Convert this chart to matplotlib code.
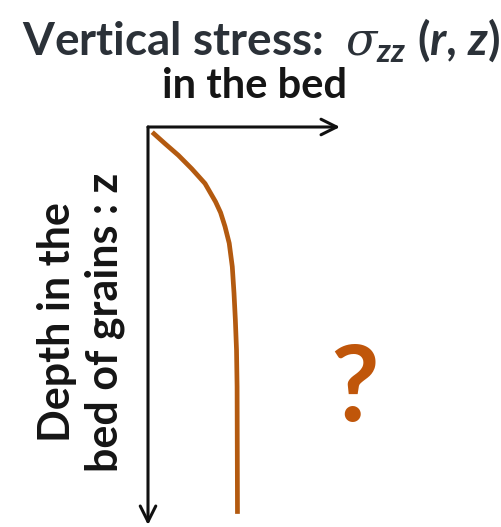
import matplotlib
matplotlib.use("Agg")
import matplotlib.pyplot as plt

# stress profile (both axes scaled 0..1 of the arrow length)
depth = [0.013, 0.042, 0.071, 0.105, 0.142, 0.188, 0.215, 0.250, 0.292,
         0.351, 0.418, 0.485, 0.560, 0.653, 0.972]
stress = [0.022, 0.089, 0.158, 0.228, 0.297, 0.352, 0.378, 0.401, 0.423,
          0.439, 0.448, 0.455, 0.461, 0.464, 0.466]

title_1 = r"Vertical stress:  $\sigma_{\mathbfit{zz}}$ ($\mathbfit{r}$, $\mathbfit{z}$)"
title_2 = "in the bed"
ylabel = "Depth in the\nbed of grains : z"

plt.rcParams['font.family'] = ['Lato', 'DejaVu Sans']
plt.rcParams['mathtext.fontset'] = 'custom'
plt.rcParams['mathtext.rm'] = 'Lato:bold'
plt.rcParams['mathtext.it'] = 'DejaVu Serif:italic'
plt.rcParams['mathtext.bf'] = 'Lato:bold'
plt.rcParams['mathtext.bfit'] = 'Lato:italic:bold'

W, H = 502, 527
fig = plt.figure(figsize=(W / 100, H / 100), dpi=100)

# axes spans the two arrows: origin top-left, depth grows downwards
x0, y0, x1, y1 = 148, 127, 340, 525
ax = fig.add_axes([x0 / W, 1 - y1 / H, (x1 - x0) / W, (y1 - y0) / H])
ax.set_xlim(0, 1)
ax.set_ylim(1, 0)
ax.axis('off')

arrow = dict(arrowstyle='->', color='#111111', lw=2.2, mutation_scale=28,
             shrinkA=0, shrinkB=0)
ax.annotate('', xy=(1, 0), xytext=(0, 0), arrowprops=arrow, annotation_clip=False)
ax.annotate('', xy=(0, 1), xytext=(0, 0), arrowprops=arrow, annotation_clip=False)

ax.plot(stress, depth, color='#B35A10', lw=3.4, solid_capstyle='butt',
        solid_joinstyle='round', clip_on=False)

fig.text(261 / W, 1 - 40 / H, title_1, ha='center', va='center',
         fontsize=33, fontweight='bold', color='#2B3138')
fig.text(255 / W, 1 - 86 / H, title_2, ha='center', va='center',
         fontsize=30, fontweight='bold', color='#151515')
fig.text(81 / W, 1 - 322 / H, ylabel, ha='center', va='center', rotation=90,
         fontsize=31, fontweight='bold', color='#151515', linespacing=1.2)
fig.text(355 / W, 1 - 391 / H, '?', ha='center', va='center',
         fontsize=76, fontweight='bold', color='#C0560A')

fig.savefig('out.png', dpi=100)
